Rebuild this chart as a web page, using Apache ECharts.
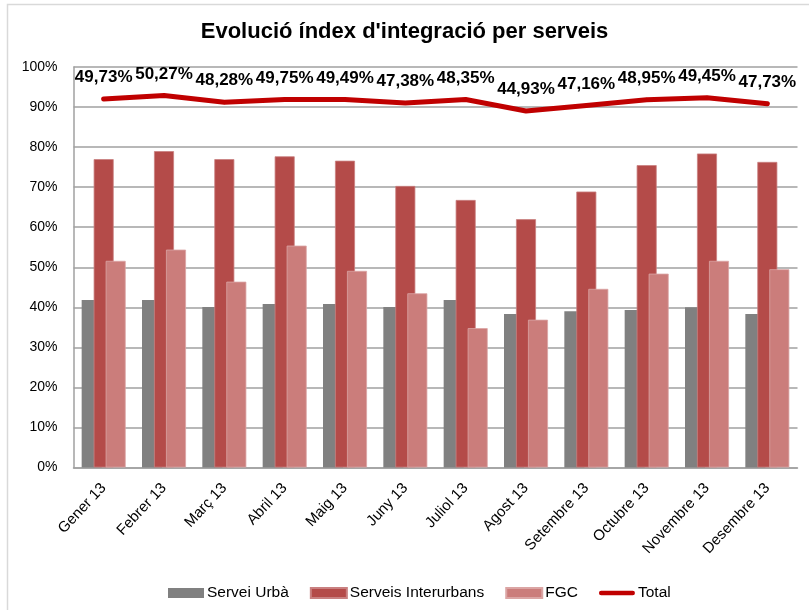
<!DOCTYPE html>
<html>
<head>
<meta charset="utf-8">
<script src="https://cdn.jsdelivr.net/npm/echarts@6/dist/echarts.min.js"></script>
<style>html,body{margin:0;padding:0;background:#fff;}#c{width:809px;height:610px;}</style>
</head>
<body>
<div id="c"></div>
<script>
const categories = ['Gener 13','Febrer 13','Març 13','Abril 13','Maig 13','Juny 13','Juliol 13','Agost 13','Setembre 13','Octubre 13','Novembre 13','Desembre 13'];
const serveiUrba = [41.8, 41.8, 40.1, 40.8, 40.8, 40.1, 41.8, 38.3, 39.0, 39.3, 40.0, 38.3];
const serveisInterurbans = [77.0, 79.0, 77.0, 77.7, 76.6, 70.3, 66.8, 62.0, 68.9, 75.5, 78.4, 76.3];
const fgc = [51.6, 54.4, 46.4, 55.4, 49.1, 43.5, 34.8, 36.9, 44.6, 48.4, 51.6, 49.5];
const total = [92.0, 92.9, 91.2, 91.9, 91.9, 91.0, 91.9, 89.0, 90.4, 91.8, 92.3, 90.8];
const totalLabels = ['49,73%','50,27%','48,28%','49,75%','49,49%','47,38%','48,35%','44,93%','47,16%','48,95%','49,45%','47,73%'];
const yTicks = ['0%','10%','20%','30%','40%','50%','60%','70%','80%','90%','100%'];

const FONT = "'Liberation Sans', Arial, sans-serif";
const chart = echarts.init(document.getElementById('c'), null, {renderer: 'canvas'});
chart.setOption({
  animation: false,
  backgroundColor: '#fff',
  graphic: [{
    type: 'rect', silent: true, z: -1,
    shape: {x: 7.5, y: 4.5, width: 820, height: 640},
    style: {fill: 'none', stroke: '#d9d9d9', lineWidth: 1.5}
  }],
  title: {
    text: "Evolució índex d'integració per serveis",
    left: 'center', top: 16,
    textStyle: {fontFamily: FONT, fontSize: 22, fontWeight: 'bold', color: '#000'}
  },
  legend: {
    left: 163, top: 580,
    itemWidth: 36, itemHeight: 10, itemGap: 21,
    textStyle: {fontFamily: FONT, fontSize: 15.5, color: '#000', padding: [0,0,0,-2]},
    data: [
      {name: 'Servei Urbà', icon: 'rect'},
      {name: 'Serveis Interurbans', icon: 'rect'},
      {name: 'FGC', icon: 'rect'},
      {name: 'Total', icon: 'path://M2.5,0 L38.5,0 A2.5,2.5 0 0 1 38.5,5 L2.5,5 A2.5,2.5 0 0 1 2.5,0 Z'}
    ]
  },
  grid: {left: 73.5, right: 11.5, top: 67, bottom: 142.5, containLabel: false},
  xAxis: {
    type: 'category',
    data: categories,
    axisLine: {lineStyle: {color: '#a0a0a0', width: 1.5}},
    axisTick: {show: false},
    axisLabel: {rotate: 47, interval: 0, margin: 18, fontFamily: FONT, fontSize: 15, color: '#000'}
  },
  yAxis: {
    type: 'value', min: 0, max: 100, interval: 10,
    axisLine: {show: true, lineStyle: {color: '#a0a0a0', width: 1.5}},
    axisTick: {show: false},
    splitLine: {lineStyle: {color: '#a0a0a0', width: 1.5}},
    axisLabel: {margin: 16, fontFamily: FONT, fontSize: 14, color: '#000',
      formatter: function (v) { return yTicks[Math.round(v / 10)]; }}
  },
  series: [
    {name: 'Servei Urbà', type: 'bar', data: serveiUrba, barWidth: 20, barGap: '-40%',
      itemStyle: {color: '#808080'}},
    {name: 'Serveis Interurbans', type: 'bar', data: serveisInterurbans, barWidth: 20, barGap: '-40%',
      itemStyle: {color: '#b44b49', borderColor: '#c98080', borderWidth: 0.8}},
    {name: 'FGC', type: 'bar', data: fgc, barWidth: 20, barGap: '-40%',
      itemStyle: {color: '#cb7d7b', borderColor: '#dba5a4', borderWidth: 0.8}},
    {name: 'Total', type: 'line', data: total, showSymbol: true, symbol: 'circle', symbolSize: 4,
      lineStyle: {color: '#c00000', width: 5, cap: 'round', join: 'round'},
      itemStyle: {color: '#c00000'},
      label: {show: true, position: 'top', distance: 11,
        fontFamily: FONT, fontSize: 17, fontWeight: 'bold', color: '#000',
        formatter: function (p) { return totalLabels[p.dataIndex]; }},
      z: 5}
  ]
});
</script>
</body>
</html>
